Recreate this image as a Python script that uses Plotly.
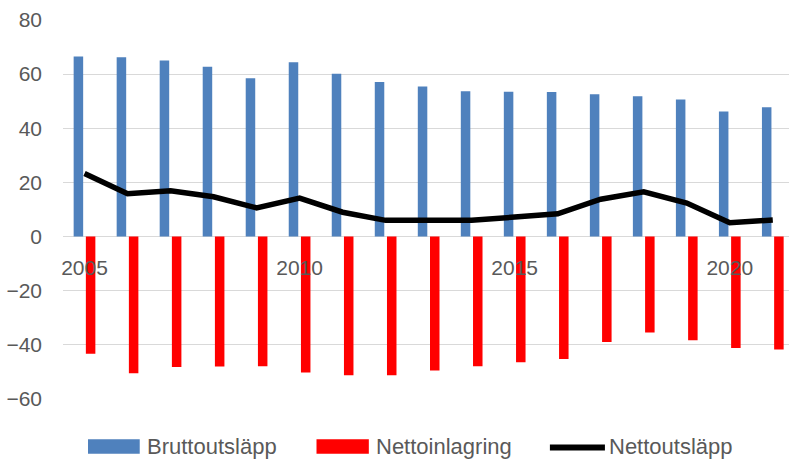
import plotly.graph_objects as go

# Årsdata, Mton CO2-ekv
years = list(range(2005, 2022))
bruttoutslapp = [66.5, 66.2, 65.0, 62.7, 58.5, 64.4, 60.1, 57.1, 55.4,
                 53.7, 53.5, 53.4, 52.6, 51.8, 50.6, 46.2, 47.8]
nettoinlagring = [-43.3, -50.5, -48.2, -48.0, -47.9, -50.2, -51.2, -51.2, -49.5,
                  -47.9, -46.4, -45.2, -38.9, -35.4, -38.3, -41.2, -41.7]
nettoutslapp = [23.3, 15.8, 16.9, 14.7, 10.6, 14.2, 9.0, 6.0, 6.0,
                6.0, 7.2, 8.4, 13.8, 16.5, 12.4, 5.1, 6.1]
series_names = ["Bruttoutsläpp", "Nettoinlagring", "Nettoutsläpp"]
x_tick_years = [2005, 2010, 2015, 2020]
y_ticks = [-60, -40, -20, 0, 20, 40, 60, 80]

BLUE = "#4F81BD"
RED = "#FF0000"
BLACK = "#000000"
GRID = "#D9D9D9"
TEXT = "#595959"
FONT = "Liberation Sans"

W, H = 789, 460
ML, MR, MT, MB = 63.3, 0, 20, 60.6
plot_w = W - ML - MR
plot_h = H - MT - MB
cat_px = 43.0  # width of one year slot in pixels

y_min, y_max = -60, 80
x_lo = years[0] - 0.5
x_hi = x_lo + plot_w / cat_px

fig = go.Figure()
fig.add_trace(go.Bar(x=years, y=bruttoutslapp, name=series_names[0],
                     marker=dict(color=BLUE, line=dict(width=0)), showlegend=False))
fig.add_trace(go.Bar(x=years, y=nettoinlagring, name=series_names[1],
                     marker=dict(color=RED, line=dict(width=0)), showlegend=False))
fig.add_trace(go.Scatter(x=years, y=nettoutslapp, name=series_names[2], mode="lines",
                         line=dict(color=BLACK, width=5.5), showlegend=False))


def px_x(px):
    return (px - ML) / plot_w


def px_y(py):
    return (H - MB - py) / plot_h


# Legend row below the plot
LEG_Y = 447.0  # vertical centre of the legend row, px from top
shapes = []
annotations = []
legend_items = [
    (series_names[0], "rect", BLUE, 88.3, 140.0, 145.5),
    (series_names[1], "rect", RED, 316.7, 369.0, 374.0),
    (series_names[2], "line", BLACK, 550.0, 605.0, 607.0),
]
for name, kind, color, x0, x1, tx in legend_items:
    if kind == "rect":
        shapes.append(dict(type="rect", xref="paper", yref="paper",
                           x0=px_x(x0), x1=px_x(x1), y0=px_y(LEG_Y + 7.2), y1=px_y(LEG_Y - 7.2),
                           fillcolor=color, line=dict(width=0)))
    else:
        shapes.append(dict(type="line", xref="paper", yref="paper",
                           x0=px_x(x0), x1=px_x(x1), y0=px_y(LEG_Y + 1), y1=px_y(LEG_Y + 1),
                           line=dict(color=color, width=6)))
    annotations.append(dict(text=name, xref="paper", yref="paper",
                            x=px_x(tx), y=px_y(LEG_Y), xanchor="left", yanchor="middle",
                            showarrow=False, font=dict(family=FONT, size=22, color=TEXT)))

zero_pos = (0 - y_min) / (y_max - y_min)

fig.update_layout(
    width=W, height=H,
    margin=dict(l=ML, r=MR, t=MT, b=MB, pad=0),
    paper_bgcolor="white", plot_bgcolor="white",
    barmode="group", bargap=0.4326, bargroupgap=0.221,
    showlegend=False,
    shapes=shapes,
    annotations=annotations,
    xaxis=dict(range=[x_lo, x_hi], tickmode="array", tickvals=x_tick_years,
               ticktext=[str(v) for v in x_tick_years],
               showgrid=False, zeroline=False, showline=False,
               anchor="free", position=zero_pos, ticks="", ticklabelstandoff=16,
               tickfont=dict(family=FONT, size=21, color=TEXT)),
    yaxis=dict(range=[y_min, y_max], tickmode="array", tickvals=y_ticks,
               showgrid=True, gridcolor=GRID, gridwidth=1.4,
               zeroline=False, showline=False, ticks="", ticklabelstandoff=20,
               tickfont=dict(family=FONT, size=21, color=TEXT)),
)

fig.write_html("out.html")
